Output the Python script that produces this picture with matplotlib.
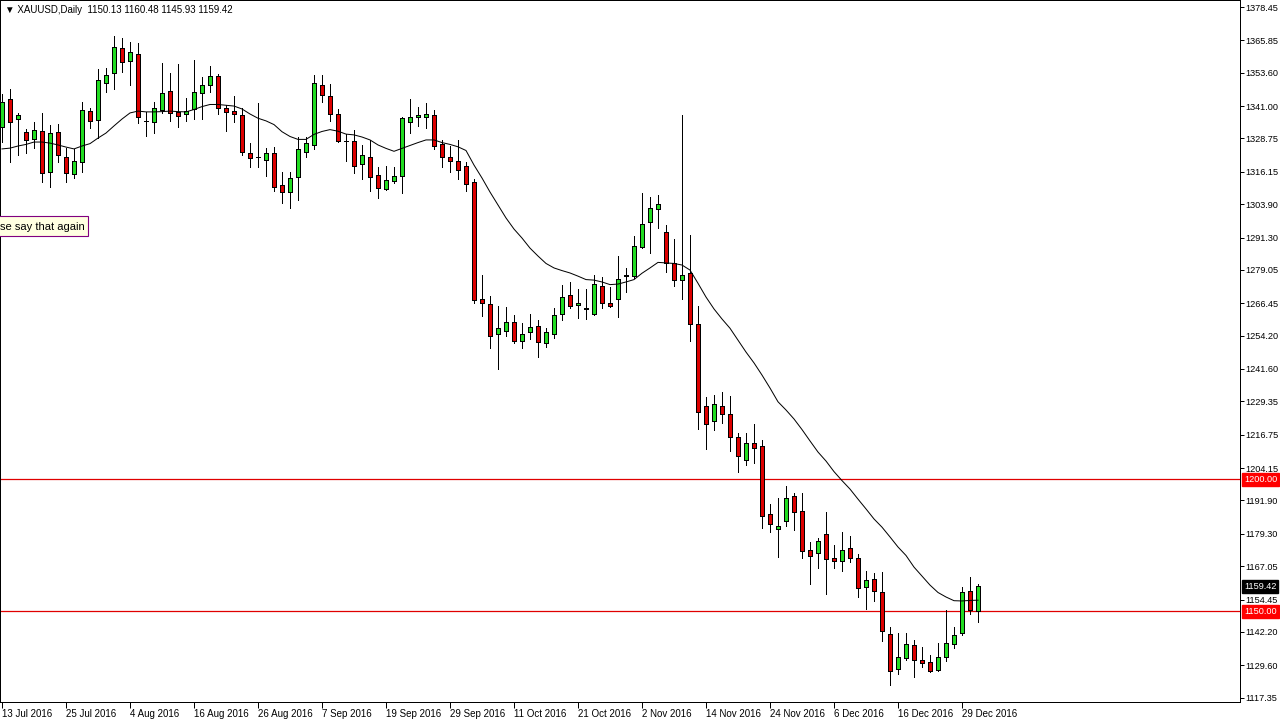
import matplotlib
matplotlib.use("Agg")
import matplotlib.pyplot as plt
from matplotlib.patches import Rectangle
from matplotlib.transforms import blended_transform_factory
import numpy as np

# ---------------- data (XAUUSD daily) ----------------
opens = [1333.0, 1343.7, 1336.0, 1331.2, 1328.4, 1331.5, 1315.9, 1331.1, 1321.6, 1315.2,
         1319.7, 1339.0, 1335.6, 1349.6, 1353.4, 1362.8, 1358.1, 1360.6, 1335.2, 1334.9,
         1339.5, 1346.6, 1338.9, 1337.9, 1339.8, 1345.8, 1348.8, 1352.3, 1340.1, 1339.0,
         1337.5, 1323.1, 1321.6, 1320.5, 1323.1, 1311.0, 1308.4, 1314.3, 1323.7, 1326.2,
         1348.8, 1344.7, 1337.9, 1327.7, 1327.7, 1319.0, 1321.6, 1314.8, 1309.8, 1312.6,
         1314.4, 1334.9, 1336.7, 1336.7, 1337.5, 1326.5, 1321.6, 1320.1, 1318.2, 1312.2,
         1267.9, 1266.0, 1254.7, 1255.8, 1259.2, 1252.1, 1255.5, 1257.7, 1251.3, 1254.7,
         1262.3, 1269.4, 1265.7, 1264.4, 1262.3, 1272.9, 1266.4, 1267.9, 1277.0, 1276.6,
         1287.8, 1297.0, 1302.0, 1293.3, 1281.5, 1275.1, 1277.8, 1258.5, 1227.5, 1221.8,
         1227.5, 1224.6, 1215.8, 1207.1, 1213.5, 1212.4, 1186.6, 1181.0, 1184.0, 1193.5,
         1187.8, 1173.0, 1171.9, 1179.1, 1170.0, 1168.9, 1173.8, 1170.0, 1159.0, 1162.1,
         1157.1, 1141.3, 1128.0, 1132.2, 1137.1, 1131.4, 1130.7, 1127.7, 1132.9, 1137.5,
         1141.6, 1157.5, 1150.13]
highs = [1345.4, 1347.5, 1338.3, 1332.2, 1334.9, 1338.3, 1333.8, 1334.2, 1325.0, 1324.7,
         1342.4, 1340.2, 1354.9, 1355.3, 1367.4, 1366.6, 1365.1, 1364.7, 1338.6, 1342.4,
         1357.2, 1353.4, 1356.9, 1343.9, 1358.3, 1351.9, 1356.0, 1353.0, 1341.4, 1344.8,
         1340.1, 1326.9, 1342.0, 1325.0, 1325.4, 1315.9, 1315.9, 1329.2, 1329.2, 1352.7,
         1352.7, 1349.3, 1339.8, 1330.4, 1331.8, 1326.2, 1328.2, 1317.8, 1318.3, 1317.8,
         1336.7, 1343.7, 1340.5, 1342.0, 1339.5, 1328.2, 1326.0, 1328.2, 1320.0, 1313.3,
         1277.1, 1269.2, 1265.3, 1264.9, 1261.9, 1258.9, 1262.3, 1260.0, 1257.0, 1264.5,
         1273.2, 1274.4, 1271.7, 1271.7, 1277.0, 1276.3, 1272.5, 1284.3, 1279.7, 1291.9,
         1308.0, 1306.5, 1307.3, 1295.9, 1290.6, 1337.7, 1292.1, 1265.3, 1230.9, 1231.6,
         1232.8, 1231.4, 1217.3, 1217.3, 1220.7, 1214.6, 1190.4, 1192.8, 1197.2, 1194.6,
         1194.6, 1176.1, 1177.6, 1187.4, 1174.9, 1179.8, 1178.4, 1171.6, 1165.1, 1164.3,
         1164.7, 1143.9, 1141.6, 1141.6, 1139.0, 1136.4, 1133.3, 1137.9, 1150.3, 1143.9,
         1159.0, 1162.8, 1160.48]
lows = [1327.5, 1320.0, 1322.5, 1323.4, 1325.0, 1312.4, 1310.5, 1319.7, 1312.2, 1313.7,
        1315.9, 1332.6, 1328.8, 1346.2, 1347.3, 1354.0, 1348.9, 1334.5, 1329.8, 1330.7,
        1338.3, 1335.5, 1333.2, 1335.5, 1336.0, 1336.0, 1346.4, 1337.9, 1331.7, 1335.1,
        1322.5, 1318.1, 1318.1, 1314.7, 1309.0, 1304.2, 1302.3, 1305.5, 1321.6, 1324.7,
        1342.6, 1335.5, 1327.5, 1320.3, 1315.6, 1313.3, 1309.0, 1306.1, 1309.4, 1311.8,
        1308.0, 1330.9, 1333.6, 1332.6, 1324.7, 1317.8, 1315.9, 1313.3, 1309.0, 1266.7,
        1261.7, 1249.4, 1241.5, 1253.9, 1251.3, 1249.4, 1252.8, 1246.0, 1249.8, 1253.2,
        1260.0, 1264.5, 1260.8, 1260.4, 1261.9, 1264.5, 1264.9, 1261.4, 1270.8, 1275.9,
        1287.2, 1285.5, 1294.8, 1278.1, 1272.9, 1267.9, 1252.1, 1218.8, 1211.2, 1218.4,
        1221.1, 1210.7, 1202.5, 1205.2, 1205.9, 1181.3, 1179.9, 1170.4, 1182.1, 1180.6,
        1170.0, 1160.2, 1166.2, 1156.4, 1166.2, 1165.1, 1168.7, 1155.5, 1150.7, 1154.0,
        1138.6, 1122.0, 1126.1, 1131.4, 1125.0, 1128.8, 1127.0, 1127.4, 1131.1, 1136.0,
        1140.9, 1148.8, 1145.93]
closes = [1342.4, 1334.9, 1337.6, 1328.1, 1331.8, 1315.6, 1330.7, 1322.5, 1315.6, 1320.1,
          1339.4, 1335.2, 1350.7, 1352.6, 1363.2, 1357.8, 1361.3, 1336.7, 1335.3, 1340.1,
          1345.8, 1338.3, 1337.1, 1339.0, 1346.2, 1348.8, 1352.3, 1340.1, 1338.6, 1337.9,
          1323.5, 1321.5, 1321.7, 1323.1, 1310.5, 1308.6, 1313.7, 1324.7, 1326.9, 1349.6,
          1345.1, 1337.9, 1327.7, 1327.8, 1318.2, 1322.4, 1314.1, 1309.9, 1312.9, 1314.4,
          1336.4, 1336.7, 1337.5, 1337.9, 1325.8, 1321.6, 1320.1, 1316.7, 1311.4, 1267.8,
          1266.4, 1254.2, 1257.0, 1259.2, 1252.1, 1254.7, 1257.3, 1251.7, 1255.5, 1261.9,
          1268.7, 1265.3, 1266.4, 1264.5, 1273.6, 1266.4, 1265.3, 1275.5, 1276.9, 1288.1,
          1296.3, 1302.3, 1303.9, 1281.5, 1275.1, 1277.0, 1258.5, 1225.2, 1220.7, 1228.2,
          1224.4, 1215.8, 1208.6, 1213.5, 1211.6, 1185.9, 1182.9, 1182.1, 1192.8, 1187.4,
          1172.6, 1170.8, 1176.4, 1169.6, 1168.9, 1173.0, 1170.0, 1158.7, 1161.7, 1157.5,
          1142.4, 1127.3, 1132.9, 1137.5, 1131.4, 1130.3, 1127.3, 1132.9, 1137.9, 1140.9,
          1157.1, 1150.3, 1159.42]
# moving average line
ma_line = [1324.8, 1325.1, 1325.9, 1326.5, 1327.4, 1327.4, 1327.0, 1326.3, 1325.5, 1324.8,
           1325.9, 1326.8, 1328.9, 1330.8, 1333.5, 1336.1, 1338.4, 1339.1, 1338.8, 1338.8,
           1338.9, 1339.1, 1338.9, 1338.8, 1339.7, 1340.8, 1341.6, 1341.6, 1341.3, 1341.0,
           1339.9, 1338.0, 1336.4, 1335.4, 1334.0, 1331.3, 1329.5, 1328.4, 1328.4, 1330.3,
           1331.4, 1332.1, 1331.5, 1330.4, 1330.1, 1329.3, 1328.2, 1326.3, 1325.0, 1323.9,
           1325.0, 1326.1, 1327.2, 1328.2, 1328.2, 1327.2, 1326.5, 1325.6, 1324.2, 1318.7,
           1313.8, 1308.5, 1303.6, 1298.7, 1294.5, 1291.1, 1287.3, 1284.3, 1281.5, 1279.8,
           1278.8, 1277.9, 1276.7, 1275.4, 1275.2, 1274.5, 1273.5, 1273.7, 1274.5, 1275.4,
           1277.8, 1279.8, 1281.9, 1281.7, 1281.5, 1280.9, 1279.0, 1274.0, 1268.8, 1264.3,
           1260.5, 1257.0, 1252.5, 1248.0, 1243.9, 1239.3, 1234.4, 1229.2, 1226.1, 1222.7,
           1218.7, 1214.4, 1210.2, 1206.8, 1202.8, 1199.4, 1196.2, 1192.4, 1188.7, 1184.9,
           1181.8, 1178.1, 1174.3, 1171.1, 1166.7, 1163.3, 1159.9, 1157.1, 1155.4, 1154.0,
           1153.9, 1154.1, 1154.2]
level_lines = [1200.00, 1150.00]
price_ticks = [1378.45, 1365.85, 1353.60, 1341.00, 1328.75, 1316.15, 1303.90, 1291.30,
               1279.05, 1266.45, 1254.20, 1241.60, 1229.35, 1216.75, 1204.15, 1191.90,
               1179.30, 1167.05, 1154.45, 1142.20, 1129.60, 1117.35]
date_labels = ["13 Jul 2016", "25 Jul 2016", "4 Aug 2016", "16 Aug 2016", "26 Aug 2016",
               "7 Sep 2016", "19 Sep 2016", "29 Sep 2016", "11 Oct 2016", "21 Oct 2016",
               "2 Nov 2016", "14 Nov 2016", "24 Nov 2016", "6 Dec 2016", "16 Dec 2016",
               "29 Dec 2016"]
date_label_bars = [0, 8, 16, 24, 32, 40, 48, 56, 64, 72, 80, 88, 96, 104, 112, 120]
symbol = "XAUUSD,Daily"

# ---------------- figure ----------------
FONT = ["Liberation Sans", "DejaVu Sans"]
plt.rcParams["font.family"] = FONT
W, H = 1280, 724
fig = plt.figure(figsize=(W / 100, H / 100), dpi=100)
L_px, R_px, T_px, B_px = 0, 1240, 0, 702
ax = fig.add_axes([L_px / W, 1 - B_px / H, (R_px - L_px) / W, (B_px - T_px) / H])
ax.set_facecolor("white")

n = len(opens)
x = np.arange(n)
ax.set_xlim(-0.25, 154.75)
ax.set_ylim(1115.7, 1381.1)

GREEN = "#22dd22"
RED = "#dd0000"
LW = 0.72  # one pixel
ax.vlines(x, lows, highs, color="black", lw=LW, zorder=2, antialiased=False)
for xi, o, c in zip(x, opens, closes):
    lo, hi = min(o, c), max(o, c)
    col = GREEN if c >= o else RED
    ax.add_patch(Rectangle((xi - 0.28, lo), 0.56, hi - lo, facecolor=col,
                           edgecolor="black", lw=LW, zorder=3, antialiased=False))

ax.plot(x, ma_line, color="black", lw=LW, zorder=4)

for lv in level_lines:
    ax.axhline(lv, color="#e00000", lw=0.9, zorder=1)

# axes styling
for s in ax.spines.values():
    s.set_color("black")
    s.set_linewidth(LW)
ax.yaxis.tick_right()
ax.set_yticks(price_ticks)
ax.set_yticklabels([f"{v:.2f}" for v in price_ticks])
ax.tick_params(axis="y", direction="out", length=3, width=LW, pad=1, labelsize=6.6,
               colors="black")
ax.set_xticks(date_label_bars)
ax.set_xticklabels(date_labels)
ax.tick_params(axis="x", direction="out", length=4, width=LW, pad=1, labelsize=7)
for lbl in ax.get_xticklabels():
    lbl.set_ha("left")

# level labels on the price scale
trans = blended_transform_factory(ax.transAxes, ax.transData)
for lv in level_lines:
    ax.text(1.0 + 4 / 1240, lv, f"{lv:.2f}", transform=trans, color="white", fontsize=6.6,
            va="center", ha="left", clip_on=False, zorder=10,
            bbox=dict(boxstyle="square,pad=0.22", fc="#ff0000", ec="#ff0000"))
ax.text(1.0 + 4 / 1240, closes[-1], f"{closes[-1]:.2f}", transform=trans, color="white",
        fontsize=6.6, va="center", ha="left", clip_on=False, zorder=10,
        bbox=dict(boxstyle="square,pad=0.22", fc="black", ec="black"))

# header
fig.text(5 / W, 1 - 10 / H,
         f"\u25BC {symbol}  {opens[-1]:.2f} {highs[-1]:.2f} {lows[-1]:.2f} {closes[-1]:.2f}",
         fontsize=7, va="center", ha="left", color="black")

# tooltip
ov = fig.add_axes([0, 0, 1, 1], facecolor="none")
ov.set_xlim(0, W)
ov.set_ylim(H, 0)
ov.axis("off")
ov.add_patch(Rectangle((-2, 216), 90, 20, facecolor="#ffffe1", edgecolor="#800080", lw=0.8))
ov.text(0, 226.5, "se say that again", fontsize=8, va="center", ha="left", color="black")

fig.savefig("out.png", dpi=100)
